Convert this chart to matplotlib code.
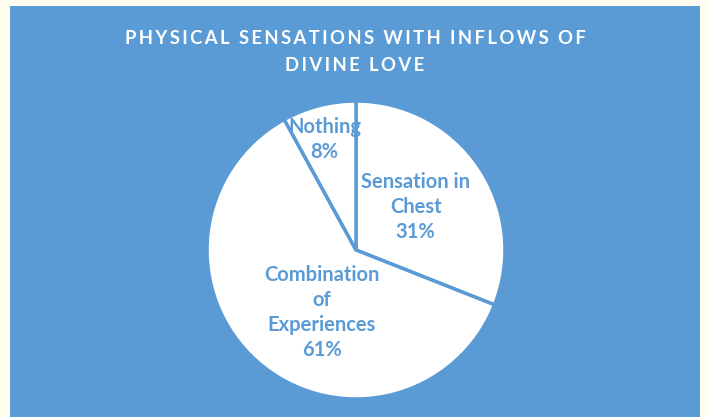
import matplotlib.pyplot as plt
from matplotlib.patches import Rectangle

labels = ["Sensation in\nChest", "Combination\nof\nExperiences", "Nothing"]
shares = [31, 61, 8]
title_lines = ["PHYSICAL SENSATIONS WITH INFLOWS OF", "DIVINE LOVE"]

blue = "#5B9BD5"
W, H = 707, 417

fig = plt.figure(figsize=(W / 100, H / 100), dpi=100)
fig.patch.set_facecolor("#FFFDF0")
fig.patches.append(Rectangle((10 / W, 0), 690 / W, (H - 6) / H,
                             transform=fig.transFigure, facecolor=blue,
                             edgecolor="none", zorder=-5))

cx, cy, r = 356, H - 250, 149
ax = fig.add_axes([(cx - r) / W, (cy - r) / H, 2 * r / W, 2 * r / H])
ax.set_zorder(2)
ax.set_facecolor("none")
wedges, _ = ax.pie(shares, startangle=90, counterclock=False, colors=["white"] * 3,
                   wedgeprops=dict(edgecolor=blue, linewidth=2.5))
ax.set_xlim(-1, 1)
ax.set_ylim(-1, 1)
ax.set_aspect("equal")
ax.axis("off")

# label positions inside slices (pie radius units)
pos = [(0.40, 0.29), (-0.23, -0.42), (-0.21, 0.74)]
for lab, v, (x, y) in zip(labels, shares, pos):
    ax.text(x, y, f"{lab}\n{v}%", ha="center", va="center", color=blue,
            fontsize=14.5, fontweight="bold", family="Lato", linespacing=1.3)

# letter-spaced title
spaced = "\n".join("\u2009".join(line) for line in title_lines)
fig.text(355 / W, 1 - 52 / H, spaced, ha="center", va="center", color="white",
         fontsize=13.3, fontweight="bold", family=["Lato", "DejaVu Sans"],
         linespacing=1.7)

fig.savefig("out.png", dpi=100)
